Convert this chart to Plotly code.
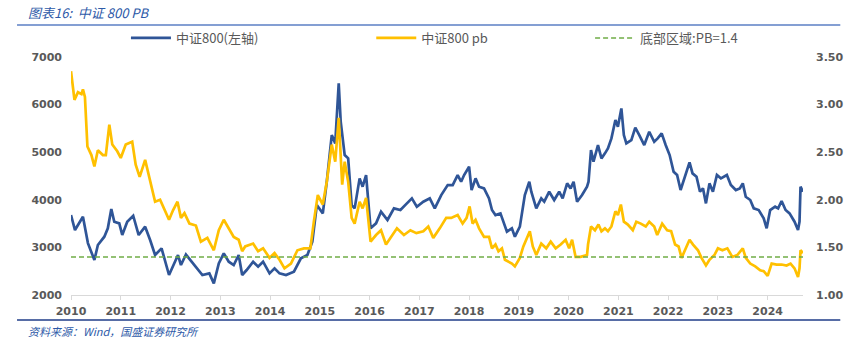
import plotly.graph_objects as go

# CSI 800 index level (left axis), decimal-year dates
idx_t = [2010.00, 2010.08, 2010.24, 2010.34, 2010.47, 2010.54, 2010.67, 2010.74, 2010.81, 2010.87,
         2010.97, 2011.03, 2011.13, 2011.25, 2011.36, 2011.49, 2011.59, 2011.69, 2011.82, 2011.97,
         2012.15, 2012.21, 2012.31, 2012.51, 2012.64, 2012.78, 2012.87, 2012.97, 2013.07, 2013.17,
         2013.27, 2013.37, 2013.44, 2013.53, 2013.66, 2013.76, 2013.86, 2013.99, 2014.09, 2014.19,
         2014.32, 2014.48, 2014.62, 2014.75, 2014.85, 2014.94, 2015.06, 2015.14, 2015.24, 2015.31,
         2015.34, 2015.38, 2015.42, 2015.50, 2015.57, 2015.64, 2015.70, 2015.80, 2015.86, 2015.93,
         2016.02, 2016.13, 2016.23, 2016.36, 2016.49, 2016.62, 2016.75, 2016.85, 2016.95, 2017.08,
         2017.21, 2017.31, 2017.44, 2017.57, 2017.67, 2017.77, 2017.84, 2017.90, 2018.00, 2018.05,
         2018.13, 2018.20, 2018.30, 2018.40, 2018.46, 2018.53, 2018.63, 2018.69, 2018.76, 2018.86,
         2018.92, 2019.02, 2019.12, 2019.21, 2019.25, 2019.35, 2019.45, 2019.51, 2019.61, 2019.71,
         2019.81, 2019.88, 2019.97, 2020.04, 2020.10, 2020.17, 2020.27, 2020.37, 2020.40, 2020.45,
         2020.50, 2020.59, 2020.66, 2020.73, 2020.79, 2020.86, 2020.94, 2020.99, 2021.06, 2021.11,
         2021.16, 2021.26, 2021.34, 2021.42, 2021.52, 2021.62, 2021.72, 2021.79, 2021.87, 2021.95,
         2022.03, 2022.11, 2022.18, 2022.25, 2022.34, 2022.43, 2022.49, 2022.57, 2022.64, 2022.70,
         2022.76, 2022.83, 2022.90, 2022.98, 2023.06, 2023.18, 2023.26, 2023.36, 2023.44, 2023.50,
         2023.56, 2023.65, 2023.72, 2023.82, 2023.92, 2023.98, 2024.05, 2024.15, 2024.21, 2024.28,
         2024.36, 2024.44, 2024.54, 2024.61, 2024.64, 2024.66, 2024.71]
idx_v = [3680, 3365, 3645, 3090, 2735, 3050, 3225, 3400, 3805, 3540,
         3505, 3260, 3540, 3665, 3260, 3435, 3155, 2840, 2980, 2420,
         2840, 2630, 2850, 2595, 2420, 2455, 2245, 2665, 2875, 2700,
         2630, 2840, 2420, 2525, 2700, 2595, 2700, 2455, 2560, 2455,
         2420, 2490, 2770, 2840, 3120, 3890, 3715, 4380, 5360, 5185,
         5780, 6445, 5640, 4940, 4870, 3890, 3820, 4450, 4275, 4520,
         3400, 3505, 3750, 3575, 3820, 3785, 3925, 4030, 3855, 3960,
         4030, 3820, 4100, 4310, 4310, 4520, 4380, 4520, 4695, 4205,
         4450, 4275, 4240, 4030, 3785, 3680, 3715, 3540, 3330, 3400,
         3225, 3435, 4100, 4380, 4170, 3820, 4030, 3960, 4170, 3995,
         4170, 4030, 4345, 4240, 4380, 3960, 4100, 4275, 4380, 5045,
         4800, 5150, 4870, 4975, 5080, 5290, 5675, 5535, 5920, 5360,
         5185, 5255, 5515, 5360, 5150, 5430, 5220, 5290, 5395, 5150,
         4940, 4590, 4520, 4205, 4520, 4785, 4555, 4485, 4170, 4240,
         3925, 4345, 4170, 4520, 4450, 4520, 4310, 4205, 4240, 4345,
         4065, 3995, 3820, 3785, 3610, 3400, 3785, 3855, 3820, 3975,
         3785, 3715, 3540, 3365, 3540, 4275, 4170]

# CSI 800 price-to-book ratio (right axis)
pb_t = [2010.00, 2010.07, 2010.14, 2010.21, 2010.24, 2010.28, 2010.33, 2010.41, 2010.47, 2010.54,
        2010.64, 2010.70, 2010.77, 2010.83, 2010.93, 2011.00, 2011.10, 2011.23, 2011.30, 2011.38,
        2011.49, 2011.59, 2011.69, 2011.79, 2011.85, 2011.97, 2012.05, 2012.14, 2012.21, 2012.28,
        2012.38, 2012.51, 2012.61, 2012.74, 2012.87, 2012.97, 2013.07, 2013.17, 2013.27, 2013.37,
        2013.44, 2013.50, 2013.66, 2013.76, 2013.86, 2013.99, 2014.09, 2014.19, 2014.29, 2014.42,
        2014.55, 2014.68, 2014.81, 2014.88, 2014.96, 2015.06, 2015.14, 2015.24, 2015.31, 2015.38,
        2015.45, 2015.50, 2015.57, 2015.64, 2015.70, 2015.80, 2015.86, 2015.93, 2016.02, 2016.13,
        2016.23, 2016.33, 2016.46, 2016.55, 2016.69, 2016.82, 2016.94, 2017.08, 2017.18, 2017.28,
        2017.41, 2017.54, 2017.64, 2017.77, 2017.87, 2017.95, 2018.01, 2018.07, 2018.13, 2018.20,
        2018.30, 2018.40, 2018.46, 2018.53, 2018.59, 2018.66, 2018.72, 2018.86, 2018.92, 2019.02,
        2019.09, 2019.15, 2019.22, 2019.28, 2019.35, 2019.45, 2019.55, 2019.64, 2019.74, 2019.84,
        2019.94, 2020.01, 2020.07, 2020.14, 2020.24, 2020.37, 2020.39, 2020.45, 2020.53, 2020.60,
        2020.66, 2020.73, 2020.79, 2020.86, 2020.94, 2020.99, 2021.05, 2021.11, 2021.19, 2021.29,
        2021.36, 2021.45, 2021.55, 2021.62, 2021.72, 2021.78, 2021.88, 2021.98, 2022.06, 2022.14,
        2022.21, 2022.27, 2022.34, 2022.43, 2022.50, 2022.60, 2022.67, 2022.76, 2022.83, 2022.93,
        2023.00, 2023.09, 2023.19, 2023.29, 2023.39, 2023.50, 2023.56, 2023.65, 2023.75, 2023.85,
        2023.92, 2024.00, 2024.08, 2024.18, 2024.28, 2024.38, 2024.46, 2024.54, 2024.61, 2024.64,
        2024.66, 2024.71]
pb_v = [3.35, 3.05, 3.13, 3.11, 3.16, 3.08, 2.56, 2.47, 2.35, 2.52,
        2.47, 2.47, 2.79, 2.58, 2.51, 2.44, 2.58, 2.61, 2.37, 2.24,
        2.42, 2.19, 1.98, 2.00, 1.93, 1.79, 1.89, 1.98, 1.81, 1.86,
        1.75, 1.73, 1.56, 1.60, 1.47, 1.68, 1.79, 1.70, 1.61, 1.58,
        1.46, 1.51, 1.54, 1.46, 1.49, 1.39, 1.44, 1.37, 1.28, 1.33,
        1.47, 1.49, 1.49, 1.77, 2.05, 1.95, 2.19, 2.58, 2.40, 2.86,
        2.16, 2.40, 2.19, 1.81, 1.75, 1.98, 1.91, 2.02, 1.56, 1.63,
        1.68, 1.53, 1.63, 1.70, 1.63, 1.68, 1.65, 1.67, 1.72, 1.60,
        1.70, 1.81, 1.81, 1.84, 1.75, 1.81, 1.93, 1.75, 1.79, 1.70,
        1.61, 1.61, 1.49, 1.53, 1.46, 1.49, 1.37, 1.33, 1.30, 1.39,
        1.51, 1.58, 1.67, 1.51, 1.42, 1.54, 1.49, 1.56, 1.49, 1.53,
        1.58, 1.49, 1.58, 1.40, 1.40, 1.42, 1.53, 1.72, 1.68, 1.74,
        1.67, 1.70, 1.67, 1.72, 1.88, 1.84, 1.95, 1.77, 1.74, 1.68,
        1.77, 1.75, 1.72, 1.77, 1.72, 1.63, 1.75, 1.68, 1.67, 1.53,
        1.51, 1.39, 1.47, 1.58, 1.53, 1.47, 1.39, 1.31, 1.37, 1.42,
        1.49, 1.47, 1.49, 1.40, 1.42, 1.49, 1.39, 1.33, 1.30, 1.26,
        1.25, 1.20, 1.33, 1.32, 1.32, 1.31, 1.33, 1.28, 1.19, 1.28,
        1.47, 1.44]

floor_pb = 1.4
years = list(range(2010, 2025))

BLUE = "#2F5597"
GOLD = "#FFC000"
GREEN = "#70AD47"
GREY = "#595959"
TXT_BLUE = "#2E5AA8"

# plot-area geometry in pixels (used to place decorations outside the axes)
L, R, T, B = 71, 817, 57, 295
W, H = R - L, B - T


def px(x):
    return (x - L) / W


def py(y):
    return (B - y) / H


fig = go.Figure()
fig.add_trace(go.Scatter(x=idx_t, y=idx_v, name="中证800(左轴)", mode="lines",
                         line=dict(color=BLUE, width=2.7), legend="legend"))
fig.add_trace(go.Scatter(x=pb_t, y=pb_v, name="中证800 pb", mode="lines", yaxis="y2",
                         line=dict(color=GOLD, width=2.7), legend="legend2"))
fig.add_trace(go.Scatter(x=[idx_t[0], idx_t[-1]], y=[floor_pb, floor_pb],
                         name="底部区域:PB=1.4", mode="lines", yaxis="y2",
                         line=dict(color=GREEN, width=1.5, dash="5px,3px"), legend="legend3"))

tick_font = dict(family="DejaVu Sans", size=11, color=GREY, weight="bold")
leg_font = dict(family="Noto Sans CJK SC", size=13, color=GREY)
leg_common = dict(orientation="h", yanchor="middle", xanchor="left", y=py(38),
                  font=leg_font, bgcolor="rgba(0,0,0,0)", itemwidth=40)

fig.update_layout(
    width=855, height=338,
    margin=dict(l=L, r=855 - R, t=T, b=338 - B),
    paper_bgcolor="white", plot_bgcolor="white",
    xaxis=dict(range=[idx_t[0], idx_t[-1]], tickvals=years, ticktext=[str(y) for y in years],
               showgrid=False, zeroline=False, showline=True, linecolor="#D9D9D9", linewidth=1,
               ticks="outside", ticklen=4, tickcolor="#D9D9D9", tickfont=tick_font,
               ticklabelstandoff=2),
    yaxis=dict(range=[2000, 7000], dtick=1000, showgrid=False, zeroline=False,
               showline=False, tickfont=tick_font, ticklabelstandoff=8),
    yaxis2=dict(range=[1.0, 3.5], dtick=0.5, tickformat=".2f", overlaying="y", side="right",
                showgrid=False, zeroline=False, showline=False, tickfont=tick_font,
                ticklabelstandoff=12),
    legend=dict(x=px(127), **leg_common),
    legend2=dict(x=px(377), **leg_common),
    legend3=dict(x=px(600), **leg_common),
    showlegend=True,
)

# header and footer rules
fig.add_shape(type="line", xref="paper", yref="paper", x0=px(16), x1=px(855),
              y0=py(25), y1=py(25), line=dict(color="#5B7FC4", width=1.5))
fig.add_shape(type="line", xref="paper", yref="paper", x0=px(16), x1=px(855),
              y0=py(320), y1=py(320), line=dict(color="#1F3C88", width=1.5))

fig.add_annotation(text="<i>图表16:  中证 800 PB</i>", xref="paper", yref="paper",
                   x=px(25), y=py(12), xanchor="left", yanchor="middle", showarrow=False,
                   font=dict(family="Noto Sans CJK SC", size=13, color=TXT_BLUE))
fig.add_annotation(text="<i>资料来源：Wind，国盛证券研究所</i>", xref="paper", yref="paper",
                   x=px(25), y=py(331), xanchor="left", yanchor="middle", showarrow=False,
                   font=dict(family="Noto Sans CJK SC", size=11, color=TXT_BLUE))

fig.write_html("out.html")
